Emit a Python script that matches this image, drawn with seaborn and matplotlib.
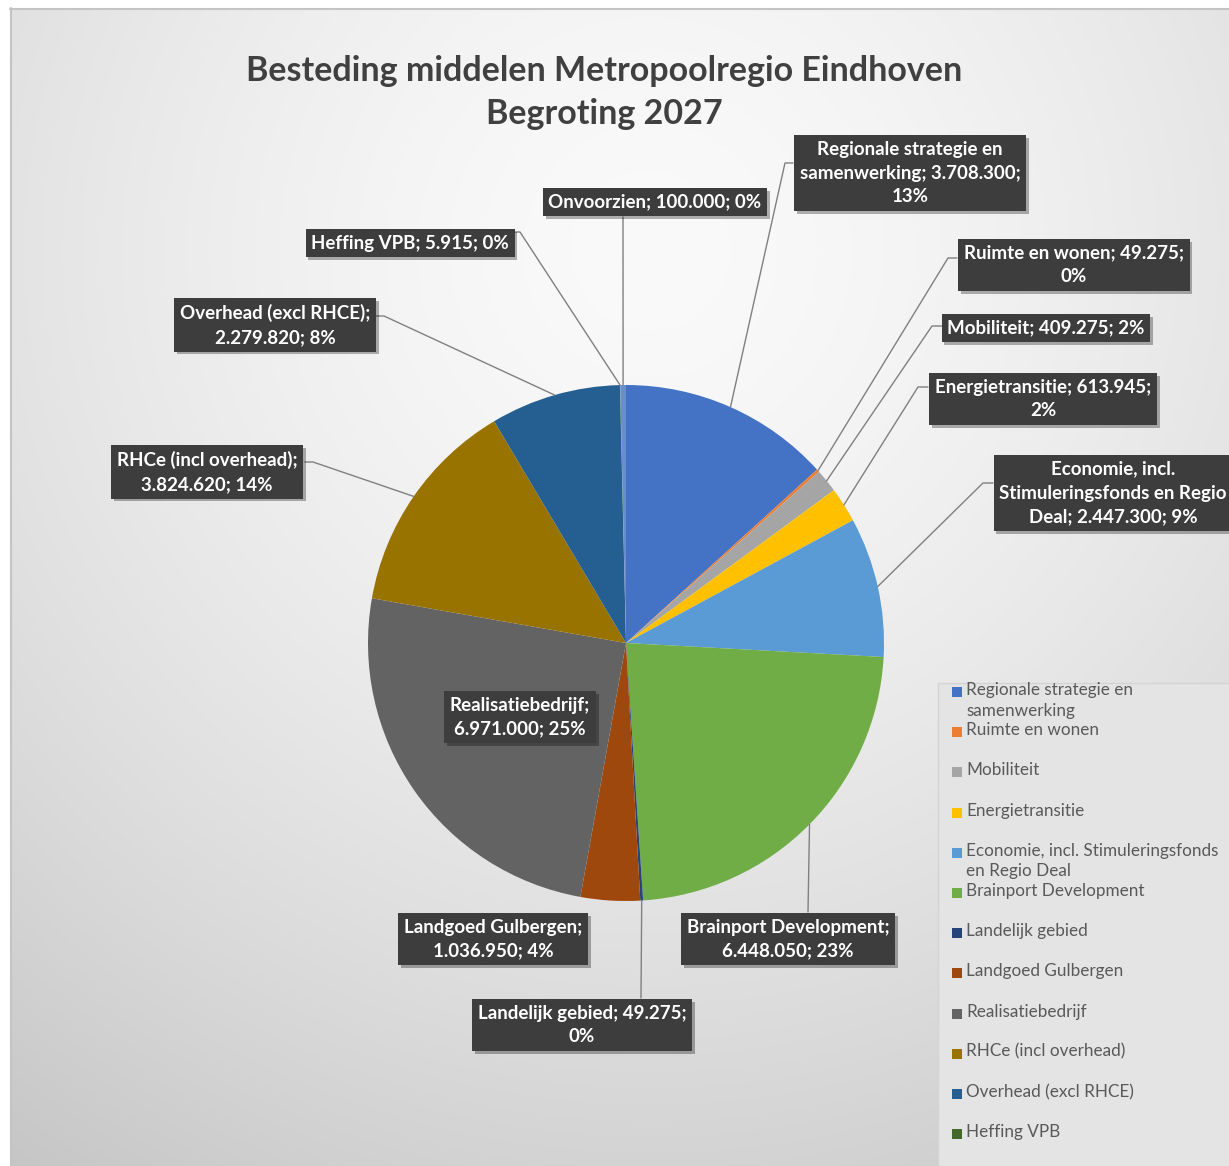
import textwrap

import numpy as np
import matplotlib
matplotlib.use("Agg")
import matplotlib.pyplot as plt
import matplotlib.patheffects as pe
from matplotlib.patches import Rectangle
import seaborn as sns

# data (clockwise from 12 o'clock, as in the Excel chart)
categories = [
    "Regionale strategie en samenwerking",
    "Ruimte en wonen",
    "Mobiliteit",
    "Energietransitie",
    "Economie, incl. Stimuleringsfonds en Regio Deal",
    "Brainport Development",
    "Landelijk gebied",
    "Landgoed Gulbergen",
    "Realisatiebedrijf",
    "RHCe (incl overhead)",
    "Overhead (excl RHCE)",
    "Heffing VPB",
    "Onvoorzien",
]
values = [3708300, 49275, 409275, 613945, 2447300, 6448050, 49275,
          1036950, 6971000, 3824620, 2279820, 5915, 100000]
colors = ["#4472C4", "#ED7D31", "#A5A5A5", "#FFC000", "#5B9BD5", "#70AD47",
          "#264478", "#9E480E", "#636363", "#997300", "#255E91", "#43682B",
          "#698ED0"]

# label box centres (px from top-left) and leader start (x, y, stub) or None
label_pos = [(910, 173), (1074, 265), (1046, 328), (1043, 399), (1113, 493),
             (788, 939), (582, 1025), (493, 939), (520, 717), (207, 472),
             (275, 325), (410, 243), (655, 202)]
leader_from = [(793, 163, -8), (957, 258, -9), (942, 326, -10), (928, 387, -10),
               (993, 483, -10), (808, 912, 0), (641, 998, 0), None, None,
               (305, 462, 8), (376, 316, 8), (513, 232, 7), (623, 217, 0)]

W, H = 1229, 1166
CX, CY, R = 626, 643, 258


def excel_percents(vals):
    # Excel rounds pie percentages so they add up to 100 (largest remainder)
    raw = np.array(vals, dtype=float) / sum(vals) * 100
    base = np.floor(raw).astype(int)
    rest = 100 - base.sum()
    order = np.argsort(-(raw - base))
    base[order[:rest]] += 1
    return base


def nl_number(v):
    return f"{v:,}".replace(",", ".")


sns.set_theme(style="white")
plt.rcParams["font.family"] = ["Lato", "DejaVu Sans"]

fig = plt.figure(figsize=(W / 100, H / 100), dpi=100, facecolor="white")

# grey radial background of the chart area
bg = fig.add_axes([0, 0, 1, 1], zorder=0)
yy, xx = np.mgrid[0:H, 0:W]
d = np.hypot(xx - 650, yy - 250)
shade = np.clip(250 - 52 * (d / 1112) ** 1.5, 190, 252) / 255
img = np.dstack([shade] * 3)
img[:8, :] = 1
img[:, :10] = 1
bg.imshow(img, extent=(0, W, H, 0), aspect="auto", interpolation="bilinear")
bg.plot([10.5, 10.5], [8, H], color="#c4c4c4", lw=1.5)
bg.plot([10, W], [8.5, 8.5], color="#c4c4c4", lw=1.5)
bg.set_xlim(0, W)
bg.set_ylim(H, 0)
bg.axis("off")

# pie
pax = fig.add_axes([(CX - R) / W, (H - CY - R) / H, 2 * R / W, 2 * R / H], zorder=1)
wedges, _ = pax.pie(values, colors=colors, startangle=90, counterclock=False,
                    wedgeprops=dict(linewidth=0))
for w in wedges:
    w.set_clip_on(False)
pax.set_xlim(-1, 1)
pax.set_ylim(-1, 1)
pax.set_aspect("equal")
pax.axis("off")

ov = fig.add_axes([0, 0, 1, 1], zorder=2)
ov.set_xlim(0, W)
ov.set_ylim(H, 0)
ov.axis("off")


def edge_px(w):
    a = np.deg2rad((w.theta1 + w.theta2) / 2)
    x, y = pax.transData.transform((w.center[0] + w.r * np.cos(a),
                                    w.center[1] + w.r * np.sin(a)))
    return x, H - y


# title
ov.text(604, 71, "Besteding middelen Metropoolregio Eindhoven", ha="center", va="center",
        fontsize=24.5, fontweight="bold", color="#404040")
ov.text(604, 114, "Begroting 2027", ha="center", va="center",
        fontsize=24.5, fontweight="bold", color="#404040")

# data labels with leader lines
pcts = excel_percents(values)
for i, (name, v) in enumerate(zip(categories, values)):
    lf = leader_from[i]
    if lf is not None:
        x0, y0, stub = lf
        ex, ey = edge_px(wedges[i])
        ov.plot([x0, x0 + stub, ex], [y0, y0, ey], color="#808080", lw=1.0, zorder=3)
    txt = textwrap.fill(f"{name}; {nl_number(v)}; {pcts[i]}%", 26)
    cx, cy = label_pos[i]
    t = ov.text(cx, cy, txt, ha="center", va="center", ma="center", color="white",
                fontsize=13.5, fontweight="bold", linespacing=1.5, zorder=5,
                bbox=dict(boxstyle="square,pad=0.3", fc="#3d3d3d", ec="none"))
    t.get_bbox_patch().set_path_effects(
        [pe.withSimplePatchShadow(offset=(2, -2), shadow_rgbFace="black", alpha=0.3), pe.Normal()])

# legend (the last entry falls below the chart edge, as in the original)
ov.add_patch(Rectangle((938, 683), 300, 500, fc="#e4e4e4", ec="#d4d4d4", lw=1, zorder=2))
for i, name in enumerate(categories):
    y = 692 + 40.2 * i
    if y > H - 20:
        break
    ov.add_patch(Rectangle((952, y - 5), 10, 10, fc=colors[i], ec="none", zorder=3))
    ov.text(966, y - 10, textwrap.fill(name, 33), ha="left", va="top", fontsize=12.3,
            color="#595959", linespacing=1.35, zorder=3)

fig.savefig("out.png", dpi=100, facecolor="white")
